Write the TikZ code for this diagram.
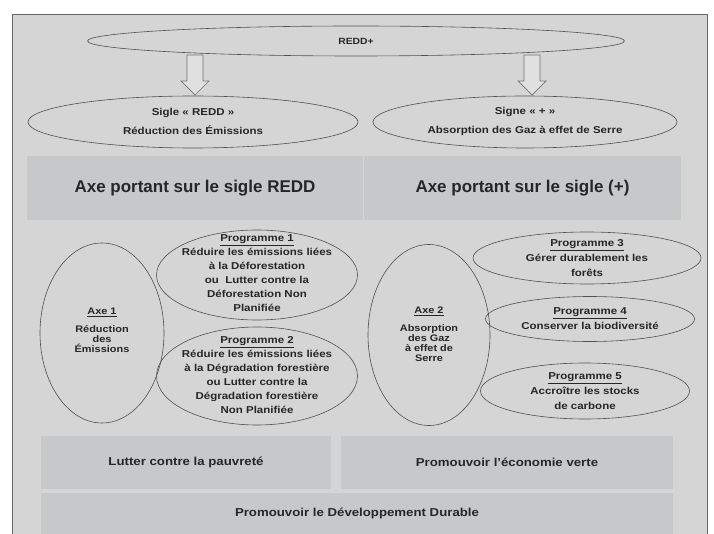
\documentclass[tikz,border=0pt]{standalone}
\usepackage{fontspec}
\setmainfont{Liberation Sans}
\newfontfamily\widesans{Liberation Sans}[FakeStretch=1.15]
\usetikzlibrary{shapes.geometric,calc}
\definecolor{bgc}{HTML}{D5D5D5}
\definecolor{boxc}{HTML}{C6C8CA}
\definecolor{linec}{HTML}{505050}
\definecolor{arrc}{HTML}{E0E0E0}
\tikzset{
  oval/.style={ellipse, draw=linec, line width=0.6pt, inner sep=0pt},
  txt/.style={inner sep=0pt, align=center, text=black!85,
    font=\widesans\bfseries\fontsize{10}{14}\selectfont},
  band/.style={rectangle, fill=boxc, draw=none, inner sep=0pt, align=center, text=black!85},
  blockarrow/.style={draw=black!55, fill=arrc, line width=0.7pt, line join=miter}
}
\begin{document}
\begin{tikzpicture}[x=1pt,y=-1pt]
\useasboundingbox (0,0) rectangle (714,534);
\fill[white] (0,0) rectangle (714,534);
\fill[bgc] (12,14) rectangle (707,534);
\draw[black!60, line width=0.8pt] (12,534) -- (12,14) -- (707,14) -- (707,534);

% top ellipses
\node[oval, minimum width=537, minimum height=30] (redd) at (356,41) {};
\node[txt, font=\widesans\bfseries\fontsize{9}{11}\selectfont] (reddT) at (redd) {REDD+};
\node[oval, minimum width=330, minimum height=52] (sigle) at (193,122) {};
\node[txt, font=\widesans\bfseries\fontsize{10}{19}\selectfont] (sigleT) at ($(sigle)+(0,-1)$) {Sigle « REDD »\\Réduction des Émissions};
\node[oval, minimum width=304, minimum height=52] (signe) at (525,122) {};
\node[txt, font=\widesans\bfseries\fontsize{10}{19}\selectfont] (signeT) at ($(signe)+(0,-1)$) {Signe « + »\\Absorption des Gaz à effet de Serre};

% block arrows
\coordinate (aL) at (195,55);
\coordinate (aR) at (532,55);
\foreach \c in {aL,aR}{
  \draw[blockarrow] ($(\c)+(-8,0)$) -- ($(\c)+(-8,26)$) -- ($(\c)+(-14,26)$) -- ($(\c)+(0,40)$)
    -- ($(\c)+(14,26)$) -- ($(\c)+(8,26)$) -- ($(\c)+(8,0)$) -- cycle;
}

% axis bands
\node[band, minimum width=336, minimum height=64, font=\bfseries\fontsize{17}{20}\selectfont] (bandL) at (195,188) {Axe portant sur le sigle REDD};
\node[band, minimum width=317, minimum height=64, font=\bfseries\fontsize{17}{20}\selectfont] (bandR) at (522.5,188) {Axe portant sur le sigle (+)};

% left column
\node[oval, minimum width=124, minimum height=180] (axe1) at (102,333) {};
\node[txt, font=\widesans\bfseries\fontsize{9.5}{10}\selectfont] (axe1T) at ($(axe1)+(0,-3)$) {\underline{Axe 1}\\[8pt]Réduction\\des\\Émissions};
\node[oval, minimum width=201, minimum height=90] (p1) at (257,275) {};
\node[txt] (p1T) at ($(p1)+(0,-2)$) {\underline{Programme 1}\\Réduire les émissions liées\\à la Déforestation\\ou\ \ Lutter contre la\\Déforestation Non\\Planifiée};
\node[oval, minimum width=201, minimum height=98] (p2) at (257,376) {};
\node[txt] (p2T) at ($(p2)+(0,-0.5)$) {\underline{Programme 2}\\Réduire les émissions liées\\à la Dégradation forestière\\ou Lutter contre la\\Dégradation forestière\\Non Planifiée};

% right column
\node[oval, minimum width=122, minimum height=181] (axe2) at (429,335) {};
\node[txt, font=\widesans\bfseries\fontsize{9.5}{10}\selectfont] (axe2T) at ($(axe2)+(0,-1)$) {\underline{Axe 2}\\[8pt]Absorption\\des Gaz\\à effet de\\Serre};
\node[oval, minimum width=228, minimum height=52] (p3) at (587,258) {};
\node[txt, font=\widesans\bfseries\fontsize{10}{15}\selectfont] (p3T) at (p3) {\underline{Programme 3}\\Gérer durablement les\\forêts};
\node[oval, minimum width=209, minimum height=45] (p4) at (590,319) {};
\node[txt, font=\widesans\bfseries\fontsize{10}{15}\selectfont] (p4T) at (p4) {\underline{Programme 4}\\Conserver la biodiversité};
\node[oval, minimum width=209, minimum height=56] (p5) at (585,391) {};
\node[txt, font=\widesans\bfseries\fontsize{10}{15}\selectfont] (p5T) at (p5) {\underline{Programme 5}\\Accroître les stocks\\de carbone};

% bottom bands
\node[band, minimum width=290, minimum height=53, font=\widesans\bfseries\fontsize{11.5}{14}\selectfont] (pauv) at (186,462.5) {Lutter contre la pauvreté};
\node[band, minimum width=332, minimum height=53, font=\widesans\bfseries\fontsize{11.5}{14}\selectfont] (eco) at (507,462.5) {Promouvoir l’économie verte};
\node[band, minimum width=632, minimum height=41, font=\widesans\bfseries\fontsize{11.5}{14}\selectfont] (dd) at (357,513.5) {Promouvoir le Développement Durable};
\end{tikzpicture}
\end{document}
